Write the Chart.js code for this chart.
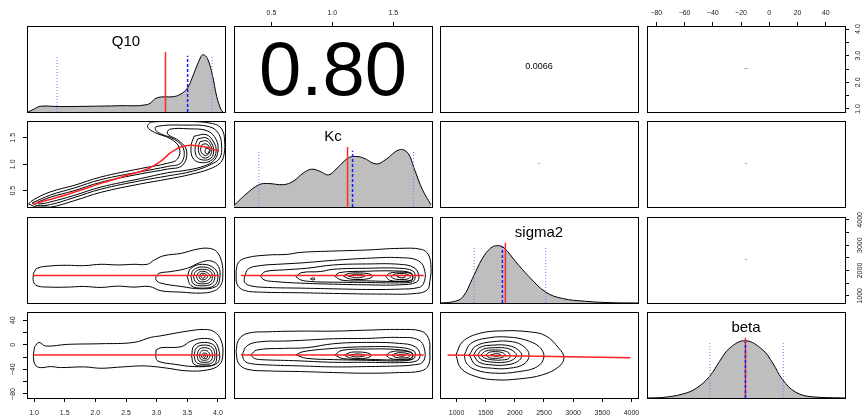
<!DOCTYPE html>
<html>
<head>
<meta charset="utf-8">
<title>Posterior pairs: Q10, Kc, sigma2, beta</title>
<script src="https://cdn.jsdelivr.net/npm/chart.js@4.4.1/dist/chart.umd.min.js"></script>
<style>
  html, body { margin: 0; padding: 0; background: #fff; }
  #plot { position: relative; width: 865px; height: 416px; overflow: hidden; }
  #plot canvas { position: absolute; }
</style>
</head>
<body>
<div id="plot"></div>
<script>
'use strict';

// ---- parameters and axis ranges ----
const varNames = ['Q10', 'Kc', 'sigma2', 'beta'];
const varMin = [0.885, 0.193, 716, -86.6];
const varMax = [4.115, 1.818, 4113, 53.6];

// ---- tick values and labels ----
const q10Ticks = [1.0, 1.5, 2.0, 2.5, 3.0, 3.5, 4.0];
const q10Labels = ['1.0', '1.5', '2.0', '2.5', '3.0', '3.5', '4.0'];
const q10SideLabels = ['1.0', '', '2.0', '', '3.0', '', '4.0'];
const kcTicks = [0.5, 1.0, 1.5];
const kcLabels = ['0.5', '1.0', '1.5'];
const sigma2Ticks = [1000, 1500, 2000, 2500, 3000, 3500, 4000];
const sigma2Labels = ['1000', '1500', '2000', '2500', '3000', '3500', '4000'];
const sigma2SideLabels = ['1000', '', '2000', '', '3000', '', '4000'];
const betaTicks = [-80, -60, -40, -20, 0, 20, 40];
const betaLabels = ['\u221280', '\u221260', '\u221240', '\u221220', '0', '20', '40'];
const betaSideLabels = ['\u221280', '', '\u221240', '', '0', '', '40'];

// ---- marginal densities (scaled so the mode is 1) ----
const q10DensX = [0.90, 1.00, 1.10, 1.40, 1.90, 2.40, 2.85, 3.01, 3.29, 3.42, 3.51, 3.61, 3.72, 3.76, 3.83, 3.91, 3.98, 4.05, 4.08];
const q10DensY = [0.00, 0.05, 0.10, 0.095, 0.10, 0.11, 0.13, 0.25, 0.27, 0.33, 0.43, 0.68, 0.96, 1.00, 0.93, 0.64, 0.27, 0.04, 0.00];
const kcDensX = [0.19, 0.30, 0.40, 0.47, 0.60, 0.68, 0.76, 0.83, 0.90, 0.97, 1.04, 1.12, 1.17, 1.25, 1.36, 1.44, 1.55, 1.62, 1.67, 1.74, 1.81];
const kcDensY = [0.02, 0.24, 0.39, 0.41, 0.39, 0.45, 0.59, 0.66, 0.62, 0.56, 0.68, 0.84, 0.88, 0.86, 0.75, 0.83, 1.00, 0.94, 0.68, 0.30, 0.04];
const sigma2DensX = [716, 932, 1103, 1274, 1445, 1588, 1701, 1816, 2016, 2243, 2529, 2813, 3213, 3668, 4113];
const sigma2DensY = [0.00, 0.02, 0.10, 0.43, 0.78, 0.96, 1.00, 0.96, 0.72, 0.46, 0.19, 0.08, 0.03, 0.005, 0.00];
const betaDensX = [-86.6, -75.3, -61.2, -51.7, -42.2, -35.2, -28.1, -16.9, -4.7, 2.4, 9.4, 18.8, 30.6, 53.6];
const betaDensY = [0.00, 0.01, 0.07, 0.17, 0.38, 0.64, 0.87, 1.00, 0.84, 0.61, 0.32, 0.10, 0.02, 0.00];
const densX = [q10DensX, kcDensX, sigma2DensX, betaDensX];
const densY = [q10DensY, kcDensY, sigma2DensY, betaDensY];

// ---- posterior summaries: mean, median, 2.5% and 97.5% quantiles ----
const meanVals = [3.144, 1.125, 1838, -16.9];
const medianVals = [3.505, 1.166, 1787, -16.9];
const lowerQ = [1.376, 0.397, 1303, -42.1];
const upperQ = [3.907, 1.666, 2529, 9.9];

// ---- correlations shown in the upper triangle ----
const corCells = [[0, 1], [0, 2], [0, 3], [1, 2], [1, 3], [2, 3]];
const corValues = ['0.80', '0.0066', '0.00041', '0.00026', '0.00027', '0.00027'];

// ---- 2-d density contours (closed rings) and smoother lines ----
const q10KcRings = [
  [[0.91,0.25],[0.99,0.33],[1.27,0.48],[1.65,0.60],[2.09,0.76],[2.74,0.92],[3.18,1.02],[3.34,1.10],[3.37,1.31],[3.23,1.48],[2.97,1.60],[2.85,1.71],[2.93,1.80],[3.50,1.81],[3.91,1.77],[4.06,1.67],[4.11,1.44],[4.10,1.19],[4.04,1.03],[3.86,0.91],[3.56,0.81],[3.18,0.72],[2.74,0.63],[2.09,0.47],[1.65,0.31],[1.27,0.19],[1.05,0.19]],
  [[0.97,0.27],[1.27,0.42],[1.65,0.55],[2.09,0.71],[2.74,0.86],[3.18,0.96],[3.40,1.03],[3.44,1.29],[3.29,1.47],[3.01,1.61],[2.99,1.71],[3.50,1.74],[3.86,1.71],[4.01,1.58],[4.06,1.34],[4.03,1.12],[3.89,1.00],[3.59,0.87],[3.18,0.78],[2.74,0.69],[2.09,0.53],[1.65,0.37],[1.27,0.24],[1.05,0.22]],
  [[1.05,0.28],[1.27,0.38],[1.65,0.50],[2.09,0.66],[2.74,0.82],[3.18,0.91],[3.42,0.98],[3.49,1.25],[3.37,1.44],[3.18,1.57],[3.21,1.66],[3.53,1.67],[3.83,1.63],[3.97,1.47],[4.00,1.25],[3.94,1.08],[3.78,0.97],[3.50,0.89],[3.18,0.84],[2.74,0.73],[2.09,0.57],[1.65,0.41],[1.27,0.29],[1.08,0.25]],
  [[3.61,1.53],[3.81,1.56],[3.93,1.42],[3.97,1.25],[3.91,1.09],[3.75,1.03],[3.60,1.10],[3.56,1.33]],
  [[3.67,1.48],[3.81,1.50],[3.90,1.39],[3.93,1.25],[3.89,1.12],[3.76,1.08],[3.65,1.15],[3.63,1.34]],
  [[3.71,1.43],[3.82,1.44],[3.88,1.36],[3.90,1.25],[3.86,1.15],[3.77,1.12],[3.70,1.19],[3.68,1.33]],
  [[3.75,1.38],[3.82,1.38],[3.86,1.32],[3.87,1.24],[3.83,1.18],[3.78,1.17],[3.73,1.22],[3.72,1.31]],
  [[3.80,1.30],[3.84,1.30],[3.86,1.26],[3.84,1.21],[3.80,1.21],[3.79,1.26]]
];
const q10KcFit = [[0.99,0.25],[1.54,0.43],[2.09,0.64],[2.63,0.83],[2.85,0.91],[3.07,1.06],[3.23,1.22],[3.40,1.33],[3.56,1.36],[3.78,1.33],[4.02,1.25]];

const q10Sigma2Rings = [
  [[0.99,1890],[1.05,2088],[1.27,2180],[1.54,2206],[1.81,2190],[2.09,2245],[2.36,2219],[2.63,2245],[2.85,2245],[2.96,2415],[3.12,2585],[3.40,2677],[3.67,2847],[3.86,2873],[3.98,2742],[4.06,2350],[4.08,1827],[4.05,1434],[3.94,1199],[3.72,1107],[3.40,1146],[3.07,1199],[2.88,1369],[2.63,1343],[2.36,1382],[2.09,1330],[1.81,1369],[1.54,1343],[1.27,1343],[1.05,1395],[0.99,1565]],
  [[2.99,1760],[3.04,1892],[3.23,1957],[3.50,2088],[3.72,2324],[3.89,2376],[4.01,2154],[4.03,1695],[3.97,1369],[3.72,1277],[3.40,1369],[3.07,1500],[2.99,1630]],
  [[3.50,1760],[3.56,2088],[3.75,2245],[3.94,2088],[4.00,1760],[3.94,1408],[3.75,1303],[3.56,1408]],
  [[3.56,1760],[3.60,2023],[3.75,2141],[3.90,2023],[3.95,1760],[3.90,1474],[3.75,1395],[3.60,1474]],
  [[3.60,1760],[3.64,1970],[3.75,2049],[3.87,1970],[3.91,1760],[3.87,1538],[3.75,1474],[3.64,1538]],
  [[3.65,1760],[3.68,1905],[3.75,1970],[3.83,1905],[3.88,1760],[3.83,1604],[3.75,1551],[3.68,1604]],
  [[3.69,1760],[3.71,1853],[3.75,1892],[3.80,1853],[3.83,1760],[3.80,1669],[3.75,1630],[3.71,1669]],
  [[3.72,1760],[3.75,1827],[3.79,1760],[3.75,1695]]
];
const q10Sigma2Fit = [[0.99,1800],[4.02,1800]];

const kcSigma2Rings = [
  [[0.21,1957],[0.23,2324],[0.30,2507],[0.47,2611],[0.63,2637],[0.74,2716],[1.01,2768],[1.28,2808],[1.55,2873],[1.73,2834],[1.79,2611],[1.81,2088],[1.80,1565],[1.78,1238],[1.69,1094],[1.42,1068],[1.01,1094],[0.74,1120],[0.41,1146],[0.28,1212],[0.22,1434]],
  [[0.28,1760],[0.31,2062],[0.41,2193],[0.55,2245],[0.74,2297],[1.01,2402],[1.28,2481],[1.55,2507],[1.71,2376],[1.76,1957],[1.75,1500],[1.71,1330],[1.55,1264],[1.28,1251],[1.01,1277],[0.74,1303],[0.47,1330],[0.33,1395],[0.28,1538]],
  [[0.41,1787],[0.45,1957],[0.60,2023],[0.79,2088],[1.01,2219],[1.28,2258],[1.55,2245],[1.67,2114],[1.71,1800],[1.69,1538],[1.55,1434],[1.28,1434],[1.01,1460],[0.74,1500],[0.52,1565],[0.44,1630]],
  [[0.70,1760],[0.75,1918],[0.90,1957],[1.01,2049],[1.28,2088],[1.55,2088],[1.66,1983],[1.68,1760],[1.66,1565],[1.55,1513],[1.28,1526],[1.01,1538],[0.82,1565],[0.74,1630]],
  [[1.02,1774],[1.06,1918],[1.28,1970],[1.50,1983],[1.64,1918],[1.66,1760],[1.65,1604],[1.55,1565],[1.28,1591],[1.08,1617]],
  [[1.09,1787],[1.13,1879],[1.21,1905],[1.30,1866],[1.33,1774],[1.30,1682],[1.21,1643],[1.13,1682]],
  [[1.44,1760],[1.47,1892],[1.57,1931],[1.65,1866],[1.66,1748],[1.65,1630],[1.57,1578],[1.47,1617]],
  [[1.13,1787],[1.20,1853],[1.27,1787],[1.20,1708]],
  [[1.48,1760],[1.51,1853],[1.57,1879],[1.62,1840],[1.64,1748],[1.62,1669],[1.57,1643],[1.51,1669]],
  [[1.53,1760],[1.57,1814],[1.60,1760],[1.57,1708]],
  [[0.82,1669],[0.84,1708],[0.86,1669],[0.84,1630]]
];
const kcSigma2Fit = [[0.25,1800],[1.75,1800]];

const q10BetaRings = [
  [[1.01,-3.0],[1.08,4.0],[1.19,-1.9],[1.54,0.8],[2.09,1.9],[2.63,4.0],[2.90,12.1],[3.07,14.8],[3.50,22.4],[3.78,25.1],[3.94,21.3],[4.05,7.8],[4.08,-16.5],[4.02,-32.7],[3.83,-40.8],[3.50,-42.4],[3.18,-38.1],[2.96,-35.4],[2.74,-34.3],[2.36,-36.5],[2.09,-38.1],[1.81,-35.9],[1.43,-37.0],[1.27,-35.4],[1.10,-37.0],[1.02,-32.7],[0.99,-19.2]],
  [[2.99,-8.4],[3.07,-4.6],[3.40,-3.0],[3.56,6.2],[3.78,10.5],[3.94,6.2],[4.02,-11.1],[4.01,-27.3],[3.89,-33.8],[3.61,-35.4],[3.29,-31.6],[3.04,-27.3],[2.99,-21.9]],
  [[3.57,-18.1],[3.61,-1.4],[3.78,4.0],[3.94,-1.4],[3.98,-18.1],[3.94,-31.6],[3.78,-34.3],[3.61,-31.6]],
  [[3.61,-18.1],[3.65,-4.6],[3.78,-0.3],[3.91,-4.6],[3.95,-18.1],[3.91,-28.9],[3.78,-31.6],[3.65,-28.9]],
  [[3.66,-18.1],[3.69,-7.9],[3.78,-4.6],[3.88,-7.9],[3.91,-18.1],[3.88,-26.2],[3.78,-28.4],[3.69,-26.2]],
  [[3.70,-18.1],[3.72,-11.1],[3.78,-8.9],[3.84,-11.1],[3.87,-18.1],[3.84,-23.5],[3.78,-25.1],[3.72,-23.5]],
  [[3.73,-18.1],[3.75,-14.3],[3.78,-13.3],[3.82,-14.8],[3.83,-18.1],[3.82,-21.4],[3.78,-22.4],[3.75,-21.4]],
  [[3.76,-18.1],[3.78,-15.9],[3.80,-18.1],[3.78,-20.3]]
];
const q10BetaFit = [[0.99,-16.5],[4.02,-16.5]];

const kcBetaRings = [
  [[0.21,-11.1],[0.23,7.8],[0.30,18.6],[0.47,21.3],[0.74,22.4],[1.01,22.4],[1.28,24.0],[1.55,25.1],[1.73,22.4],[1.79,10.5],[1.80,-11.1],[1.79,-32.7],[1.73,-42.4],[1.55,-45.1],[1.28,-46.2],[1.01,-45.1],[0.74,-43.5],[0.47,-42.4],[0.30,-39.7],[0.23,-30.0]],
  [[0.26,-16.5],[0.30,-1.4],[0.41,5.1],[0.60,6.2],[0.74,7.3],[1.01,10.0],[1.28,10.5],[1.55,12.1],[1.71,7.8],[1.76,-11.1],[1.74,-28.4],[1.66,-32.7],[1.55,-34.3],[1.28,-35.4],[1.01,-35.9],[0.74,-34.3],[0.47,-32.7],[0.33,-30.5],[0.28,-26.2]],
  [[0.33,-16.5],[0.38,-8.4],[0.60,-5.7],[0.79,-4.6],[1.01,1.9],[1.28,4.0],[1.55,2.4],[1.68,-3.0],[1.72,-16.5],[1.69,-26.2],[1.55,-28.9],[1.28,-28.4],[1.01,-28.4],[0.68,-25.7],[0.41,-24.0],[0.36,-21.9]],
  [[0.70,-16.5],[0.76,-11.1],[1.01,-5.7],[1.28,-3.0],[1.55,-4.1],[1.67,-10.0],[1.68,-17.6],[1.66,-23.5],[1.55,-26.2],[1.28,-25.1],[1.01,-24.0],[0.79,-21.9]],
  [[1.02,-16.5],[1.08,-8.9],[1.28,-6.8],[1.52,-7.4],[1.65,-12.2],[1.66,-18.1],[1.65,-23.0],[1.55,-24.6],[1.28,-23.5],[1.09,-22.4]],
  [[1.10,-17.0],[1.14,-12.7],[1.21,-11.6],[1.29,-13.3],[1.32,-17.0],[1.29,-20.8],[1.21,-22.4],[1.14,-20.8]],
  [[1.44,-17.0],[1.48,-11.6],[1.57,-10.0],[1.64,-12.2],[1.66,-17.0],[1.64,-21.9],[1.57,-23.5],[1.48,-22.4]],
  [[1.14,-17.0],[1.20,-14.8],[1.27,-17.0],[1.20,-19.7]],
  [[1.49,-17.0],[1.52,-13.8],[1.57,-12.7],[1.62,-14.3],[1.64,-17.0],[1.62,-20.3],[1.57,-21.4],[1.52,-20.3]],
  [[1.53,-17.0],[1.57,-15.4],[1.60,-17.0],[1.57,-18.6]]
];
const kcBetaFit = [[0.25,-16.5],[1.75,-16.5]];

const sigma2BetaRings = [
  [[989,-16.5],[1103,5.1],[1388,18.6],[1787,22.9],[2244,21.3],[2529,14.8],[2757,-5.7],[2843,-20.8],[2757,-35.4],[2473,-48.9],[2073,-55.4],[1673,-57.0],[1331,-51.6],[1075,-38.1]],
  [[1132,-16.5],[1246,2.4],[1560,11.6],[1902,12.6],[2187,7.8],[2416,-3.0],[2500,-19.2],[2387,-35.4],[2073,-43.5],[1673,-46.2],[1331,-40.8],[1172,-30.0]],
  [[1217,-16.5],[1331,-1.9],[1616,5.1],[1959,5.1],[2159,-3.0],[2244,-16.5],[2159,-31.1],[1902,-38.1],[1616,-38.1],[1331,-32.7]],
  [[1291,-16.5],[1388,-4.6],[1645,-0.3],[1902,-1.4],[2061,-8.4],[2119,-17.6],[2044,-27.3],[1845,-32.7],[1616,-32.7],[1388,-28.4]],
  [[1360,-16.5],[1445,-7.4],[1673,-4.6],[1873,-5.7],[1987,-11.1],[2027,-17.6],[1959,-24.6],[1816,-28.4],[1645,-28.4],[1434,-24.6]],
  [[1417,-16.5],[1503,-10.0],[1673,-8.4],[1833,-10.0],[1913,-15.4],[1902,-21.9],[1787,-24.6],[1645,-24.6],[1491,-21.9]],
  [[1503,-16.5],[1560,-12.2],[1673,-11.1],[1787,-12.7],[1833,-16.5],[1787,-20.3],[1673,-21.9],[1560,-20.8]],
  [[1587,-16.5],[1673,-14.3],[1759,-16.5],[1673,-18.6]]
];
const sigma2BetaFit = [[847,-16.5],[3983,-20.8]];

const lowerPanels = [
  [1, 0, q10KcRings, q10KcFit],
  [2, 0, q10Sigma2Rings, q10Sigma2Fit],
  [2, 1, kcSigma2Rings, kcSigma2Fit],
  [3, 0, q10BetaRings, q10BetaFit],
  [3, 1, kcBetaRings, kcBetaFit],
  [3, 2, sigma2BetaRings, sigma2BetaFit]
];

// ---- layout ----
const FONT = '"Liberation Sans", Arial, Helvetica, sans-serif';
const M = 30;
const BOX_W = 198, BOX_H = 86;
const boxLeft = [27, 234, 440, 647];
const boxTop = [26, 121, 217, 312];
const tickFont = { family: FONT, size: 7 };

// outer axes: pairs-style, alternating sides
const axisSpecs = [
  { row: 0, col: 1, side: 'top', ticks: kcTicks, labels: kcLabels, pad: 4.3 },
  { row: 0, col: 3, side: 'top', ticks: betaTicks, labels: betaLabels, pad: 4.3 },
  { row: 0, col: 3, side: 'right', ticks: q10Ticks, labels: q10SideLabels, pad: 4.4 },
  { row: 1, col: 0, side: 'left', ticks: kcTicks, labels: kcLabels, pad: 4.6 },
  { row: 2, col: 3, side: 'right', ticks: sigma2Ticks, labels: sigma2SideLabels, pad: 3.0 },
  { row: 3, col: 0, side: 'left', ticks: betaTicks, labels: betaSideLabels, pad: 4.1 },
  { row: 3, col: 0, side: 'bottom', ticks: q10Ticks, labels: q10Labels, pad: 7 },
  { row: 3, col: 2, side: 'bottom', ticks: sigma2Ticks, labels: sigma2Labels, pad: 7 }
];

// text inside a panel: diagonal names and correlation values
const panelText = {
  id: 'panelText',
  afterDatasetsDraw(chart, args, opts) {
    if (!opts || !opts.text) return;
    const a = chart.chartArea, ctx = chart.ctx;
    ctx.save();
    ctx.font = opts.size + 'px ' + FONT;
    ctx.fillStyle = '#000';
    ctx.textAlign = 'center';
    ctx.textBaseline = 'alphabetic';
    const y = opts.top !== undefined ? a.top + opts.top : (a.top + a.bottom) / 2 + opts.mid;
    ctx.fillText(opts.text, (a.left + a.right) / 2, y);
    ctx.restore();
  }
};
Chart.register(panelText);

function specFor(row, col, side) {
  return axisSpecs.find(s => s.row === row && s.col === col && s.side === side);
}

function scaleOpts(position, range, spec) {
  const o = {
    type: 'linear', position: position, min: range[0], max: range[1], bounds: 'data',
    afterFit: s => { if (s.isHorizontal()) s.height = M; else s.width = M; },
    border: { display: true, color: '#000', width: 1 },
    grid: { display: false, drawOnChartArea: false, drawTicks: false },
    ticks: { display: false }
  };
  if (spec) {
    const vertical = position === 'left' || position === 'right';
    o.afterBuildTicks = s => { s.ticks = spec.ticks.map(v => ({ value: v })); };
    o.grid = { display: true, drawOnChartArea: false, drawTicks: true, tickLength: 4, tickWidth: 1, color: '#000' };
    o.ticks = {
      display: true, autoSkip: false, padding: spec.pad, color: '#222', font: tickFont,
      minRotation: vertical ? 90 : 0, maxRotation: vertical ? 90 : 0,
      crossAlign: vertical ? 'center' : 'near',
      callback: (v, i) => spec.labels[i]
    };
  }
  return o;
}

const plot = document.getElementById('plot');

function addPanel(row, col, datasets, textOpts) {
  const canvas = document.createElement('canvas');
  canvas.width = BOX_W + 2 * M;
  canvas.height = BOX_H + 2 * M;
  canvas.style.left = (boxLeft[col] - M) + 'px';
  canvas.style.top = (boxTop[row] - M) + 'px';
  plot.appendChild(canvas);
  const xr = [varMin[col], varMax[col]];
  const yr = row === col ? [0, 1.5] : [varMin[row], varMax[row]];
  new Chart(canvas, {
    type: 'scatter',
    data: { datasets: datasets },
    options: {
      responsive: false,
      animation: false,
      events: [],
      layout: { padding: 0 },
      elements: { point: { radius: 0, hoverRadius: 0 }, line: { borderWidth: 1, tension: 0.4 } },
      plugins: { legend: { display: false }, tooltip: { enabled: false }, panelText: textOpts || {} },
      scales: {
        x: scaleOpts('bottom', xr, specFor(row, col, 'bottom')),
        x2: scaleOpts('top', xr, specFor(row, col, 'top')),
        y: scaleOpts('left', yr, specFor(row, col, 'left')),
        y2: scaleOpts('right', yr, specFor(row, col, 'right'))
      }
    }
  });
}

const toPts = arr => arr.map(p => ({ x: p[0], y: p[1] }));

function vline(v, h, color, dash, width) {
  return { data: [{ x: v, y: 0 }, { x: v, y: h }], borderColor: color, borderDash: dash,
           borderWidth: width, showLine: true, tension: 0, fill: false };
}

// density with mean (red), median (blue dashed) and 95% interval (dotted)
function diagSets(i) {
  return [
    vline(lowerQ[i], 0.99, '#7a7aff', [1, 2], 1),
    vline(upperQ[i], 0.99, '#7a7aff', [1, 2], 1),
    vline(medianVals[i], 0.98, '#1a1aff', [3, 2], 1.5),
    vline(meanVals[i], 1.05, '#ff2a2a', [], 1.5),
    { data: densX[i].map((x, k) => ({ x: x, y: densY[i][k] })), borderColor: '#000', borderWidth: 1,
      backgroundColor: '#bebebe', fill: 'origin', showLine: true, tension: 0.4 }
  ];
}

function lowerSets(rings, fit) {
  const sets = [{ data: toPts(fit), borderColor: '#ff2020', borderWidth: 1.5, showLine: true, tension: 0.4, fill: false }];
  rings.forEach(r => {
    sets.push({ data: toPts(r.concat([r[0]])), borderColor: '#000', borderWidth: 1,
                showLine: true, tension: 0.4, fill: false });
  });
  return sets;
}

const corSizes = [76, 9, 1.1, 0.7, 0.7, 0.7];
const corShift = [26, 0, 0.3, 0.3, 0.3, 0.3];

for (let row = 0; row < 4; row++) {
  for (let col = 0; col < 4; col++) {
    if (row === col) {
      addPanel(row, col, diagSets(row), { text: varNames[row], size: 15, top: 20 });
    } else if (row > col) {
      const lp = lowerPanels.find(p => p[0] === row && p[1] === col);
      addPanel(row, col, lowerSets(lp[2], lp[3]));
    } else {
      const k = corCells.findIndex(c => c[0] === row && c[1] === col);
      addPanel(row, col, [], { text: corValues[k], size: corSizes[k], mid: corShift[k] });
    }
  }
}
</script>
</body>
</html>
